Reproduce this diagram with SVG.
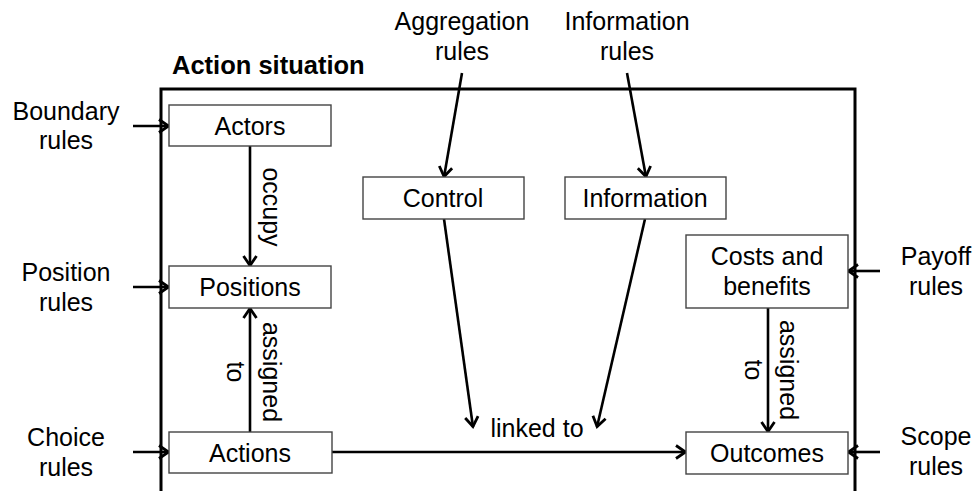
<svg xmlns="http://www.w3.org/2000/svg" width="979" height="491" viewBox="0 0 979 491">
  <defs>
    <marker id="arrow" markerUnits="userSpaceOnUse" markerWidth="26" markerHeight="26" viewBox="-13 -13 26 26" refX="0" refY="0" orient="auto">
      <path d="M-10,-6.5 L-0.5,0 L-10,6.5" fill="none" stroke="#000" stroke-width="2.8" stroke-linejoin="miter"/>
    </marker>
  </defs>
  <style>
    text { font-family: "Liberation Sans", Arial, sans-serif; font-size: 25px; fill: #000; }
    .c { text-anchor: middle; }
    .title { font-weight: bold; font-size: 25.5px; }
    .box { fill: #fff; stroke: #444; stroke-width: 1.4; }
    .frame { fill: none; stroke: #000; stroke-width: 3; }
    .link { fill: none; stroke: #000; stroke-width: 2.6; marker-end: url(#arrow); }
  </style>
  <rect width="979" height="491" fill="#fff"/>

  <!-- action situation frame (open at the bottom) -->
  <g id="action-situation">
    <path class="frame" d="M161,495 L161,89 L855,89 L855,495"/>
    <text class="title" x="172" y="74">Action situation</text>
  </g>

  <!-- external rules -->
  <g id="boundary-rules"><text class="c" x="66" y="120">Boundary</text><text class="c" x="66" y="149">rules</text></g>
  <g id="position-rules"><text class="c" x="66" y="281">Position</text><text class="c" x="66" y="311">rules</text></g>
  <g id="choice-rules"><text class="c" x="66" y="446">Choice</text><text class="c" x="66" y="476">rules</text></g>
  <g id="payoff-rules"><text class="c" x="936" y="265">Payoff</text><text class="c" x="936" y="295">rules</text></g>
  <g id="scope-rules"><text class="c" x="936" y="445">Scope</text><text class="c" x="936" y="475">rules</text></g>
  <g id="aggregation-rules"><text class="c" x="462" y="30">Aggregation</text><text class="c" x="462" y="60">rules</text></g>
  <g id="information-rules"><text class="c" x="627" y="30">Information</text><text class="c" x="627" y="60">rules</text></g>

  <!-- connectors -->
  <g id="connectors">
    <line class="link" x1="133" y1="126" x2="169" y2="126"/>
    <line class="link" x1="133" y1="287" x2="169" y2="287"/>
    <line class="link" x1="133" y1="452" x2="169" y2="452"/>
    <line class="link" x1="880" y1="271" x2="848" y2="271"/>
    <line class="link" x1="880" y1="452" x2="848" y2="452"/>
    <line class="link" x1="462" y1="73" x2="444" y2="177"/>
    <line class="link" x1="627" y1="73" x2="646" y2="177"/>
    <line class="link" x1="444" y1="219" x2="473" y2="427"/>
    <line class="link" x1="645" y1="219" x2="597" y2="427"/>
    <line class="link" x1="250" y1="146" x2="250" y2="266"/>
    <line class="link" x1="250" y1="432" x2="250" y2="308"/>
    <line class="link" x1="768" y1="308" x2="768" y2="432"/>
    <line class="link" x1="332" y1="452" x2="686" y2="452"/>
    <text class="c" x="537" y="437">linked to</text>
    <text class="c" transform="translate(263,207) rotate(90)">occupy</text>
    <text class="c" transform="translate(263,372) rotate(90)">assigned</text>
    <text class="c" transform="translate(227,372) rotate(90)">to</text>
    <text class="c" transform="translate(780,370) rotate(90)">assigned</text>
    <text class="c" transform="translate(745,370) rotate(90)">to</text>
  </g>

  <!-- nodes -->
  <g id="actors"><rect class="box" x="169" y="105" width="162" height="41"/><text class="c" x="250" y="135">Actors</text></g>
  <g id="positions"><rect class="box" x="169" y="266" width="162" height="42"/><text class="c" x="250" y="296">Positions</text></g>
  <g id="actions"><rect class="box" x="169" y="432" width="163" height="41"/><text class="c" x="250" y="462">Actions</text></g>
  <g id="control"><rect class="box" x="363" y="177" width="161" height="42"/><text class="c" x="443" y="207">Control</text></g>
  <g id="information"><rect class="box" x="565" y="177" width="161" height="42"/><text class="c" x="645" y="207">Information</text></g>
  <g id="costs-benefits"><rect class="box" x="686" y="235" width="162" height="73"/><text class="c" x="767" y="265">Costs and</text><text class="c" x="767" y="295">benefits</text></g>
  <g id="outcomes"><rect class="box" x="686" y="432" width="162" height="42"/><text class="c" x="767" y="462">Outcomes</text></g>
</svg>
